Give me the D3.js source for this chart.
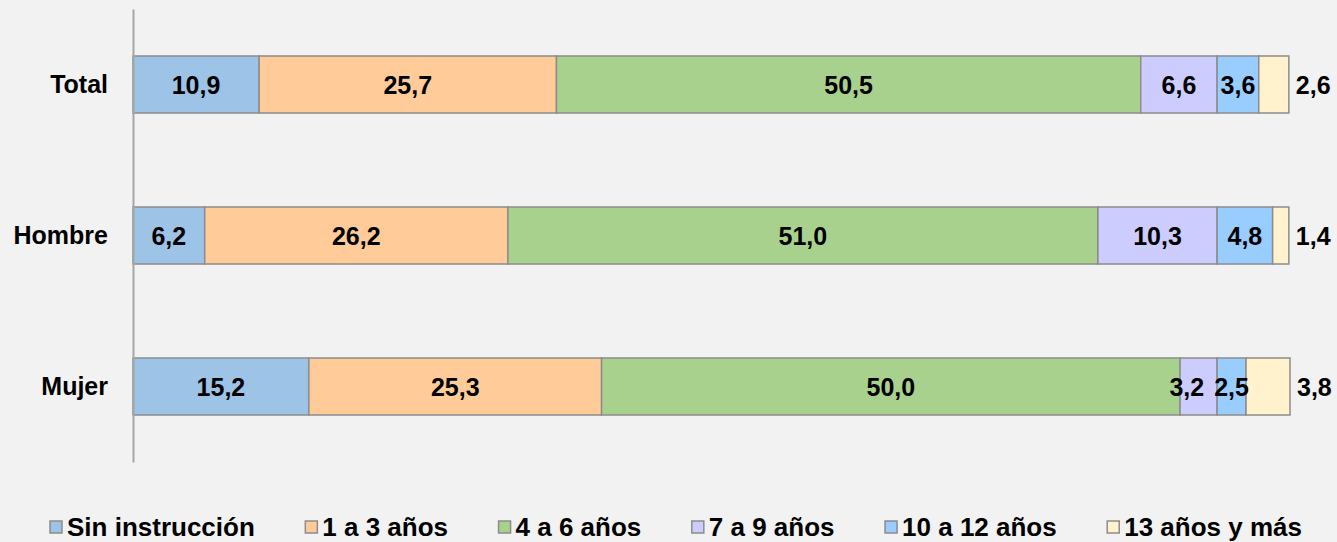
<!DOCTYPE html>
<html>
<head>
<meta charset="utf-8">
<script src="https://cdn.jsdelivr.net/npm/d3@7"></script>
<style>
  html, body { margin: 0; padding: 0; background: #f2f2f2; }
  svg { display: block; font-family: "Liberation Sans", Arial, sans-serif; }
</style>
</head>
<body>
<svg id="chart" width="1337" height="542"></svg>
<script>
// ---- data ----
const categories = ["Total", "Hombre", "Mujer"];
const seriesNames = ["Sin instrucción", "1 a 3 años", "4 a 6 años", "7 a 9 años", "10 a 12 años", "13 años y más"];
const sinInstruccion = [10.9, 6.2, 15.2];
const anios1a3 = [25.7, 26.2, 25.3];
const anios4a6 = [50.5, 51.0, 50.0];
const anios7a9 = [6.6, 10.3, 3.2];
const anios10a12 = [3.6, 4.8, 2.5];
const anios13mas = [2.6, 1.4, 3.8];
const xDomain = [0, 100];

const seriesValues = [sinInstruccion, anios1a3, anios4a6, anios7a9, anios10a12, anios13mas];
const colors = ["#9dc3e6", "#ffcc99", "#a9d18e", "#ccccff", "#99ccff", "#fff2cc"];

const svg = d3.select("#chart");
const fmt = v => d3.format(".1f")(v).replace(".", ",");

const x = d3.scaleLinear().domain(xDomain).range([133, 1290]);
const y = d3.scaleBand().domain(categories).range([9, 462]).paddingInner(0.6225).paddingOuter(0.31125);

// build table
const rows = categories.map((c, i) => {
  const r = { cat: c };
  seriesNames.forEach((s, j) => r[s] = seriesValues[j][i]);
  return r;
});
const stack = d3.stack().keys(seriesNames)(rows);

// bars
const g = svg.append("g");
stack.forEach((layer, j) => {
  g.selectAll(null).data(layer).enter().append("rect")
    .attr("x", d => x(d[0]))
    .attr("y", d => y(d.data.cat))
    .attr("width", d => x(d[1]) - x(d[0]))
    .attr("height", y.bandwidth())
    .attr("fill", colors[j])
    .attr("stroke", "#8c8c8c")
    .attr("stroke-width", 1.5);
});

// axis
const axis = svg.append("g")
  .attr("transform", `translate(${x(0)},0)`)
  .call(d3.axisLeft(y).tickSize(0).tickSizeOuter(0).tickPadding(25));
axis.select(".domain").attr("stroke", "#a6a6a6").attr("stroke-width", 2);
axis.selectAll("text")
  .attr("font-size", 25).attr("font-weight", "bold").attr("fill", "#000")
  .attr("font-family", '"Liberation Sans", Arial, sans-serif');

// labels
const labelSize = 25;
categories.forEach((c, i) => {
  const items = stack.map((layer, j) => {
    const d = layer[i];
    const last = j === stack.length - 1;
    return { text: fmt(seriesValues[j][i]), last, x0: x(d[0]), x1: x(d[1]) };
  });
  const texts = items.map(it => {
    const t = svg.append("text")
      .attr("y", y(c) + y.bandwidth() / 2)
      .attr("dy", "0.36em")
      .attr("font-size", labelSize)
      .attr("font-weight", "bold")
      .attr("fill", "#000")
      .text(it.text);
    if (it.last) {
      t.attr("x", it.x1 + 7).attr("text-anchor", "start");
    } else {
      t.attr("x", (it.x0 + it.x1) / 2).attr("text-anchor", "middle");
    }
    return t;
  });
  // simple collision avoidance between inside labels (shift left)
  for (let k = items.length - 3; k >= 0; k--) {
    const a = texts[k].node().getBBox();
    const b = texts[k + 1].node().getBBox();
    const minGap = 10;
    if (a.x + a.width > b.x - minGap) {
      const shift = (a.x + a.width) - (b.x - minGap);
      texts[k].attr("x", +texts[k].attr("x") - shift);
    }
  }
});

// legend
const legendSize = 26;
const legend = svg.append("g");
const legendLeft = 50, legendRight = 1302, legendY = 527, box = 12, boxGap = 5;
const items = seriesNames.map((s, j) => {
  const gi = legend.append("g");
  gi.append("rect").attr("width", box).attr("height", box).attr("y", legendY - box / 2)
    .attr("fill", colors[j]).attr("stroke", "#8c8c8c").attr("stroke-width", 1.5);
  const t = gi.append("text").attr("x", box + boxGap).attr("y", legendY).attr("dy", "0.36em")
    .attr("font-size", legendSize).attr("font-weight", "bold").attr("fill", "#000").text(s);
  return { gi, w: box + boxGap + t.node().getComputedTextLength() };
});
const totalW = d3.sum(items, d => d.w);
const gap = (legendRight - legendLeft - totalW) / (items.length - 1);
let cx = legendLeft;
items.forEach(it => { it.gi.attr("transform", `translate(${cx},0)`); cx += it.w + gap; });
</script>
</body>
</html>
